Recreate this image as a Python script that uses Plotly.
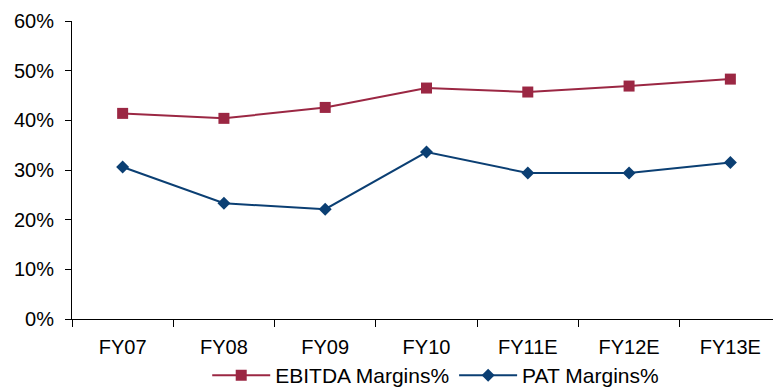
import plotly.graph_objects as go

categories = ["FY07", "FY08", "FY09", "FY10", "FY11E", "FY12E", "FY13E"]
ebitda = [41.4, 40.4, 42.6, 46.5, 45.7, 46.9, 48.3]
pat = [30.6, 23.3, 22.1, 33.6, 29.4, 29.4, 31.5]
y_ticks = [0, 10, 20, 30, 40, 50, 60]
y_tick_labels = [f"{v}%" for v in y_ticks]

fig = go.Figure()
fig.add_trace(go.Scatter(
    x=categories, y=ebitda, name="EBITDA Margins%", mode="lines+markers",
    line=dict(color="#9B2743", width=2),
    marker=dict(symbol="square", size=11, color="#9B2743"),
))
fig.add_trace(go.Scatter(
    x=categories, y=pat, name="PAT Margins%", mode="lines+markers",
    line=dict(color="#0B3F73", width=2),
    marker=dict(symbol="diamond", size=10, color="#0B3F73"),
))

# page body has an 8px margin, so the figure is shrunk and margins offset accordingly
fig.update_layout(
    width=773, height=381,
    margin=dict(l=64, r=0, t=13, b=70, autoexpand=False),
    paper_bgcolor="white", plot_bgcolor="white",
    font=dict(family="Liberation Sans, Arial, sans-serif", size=20, color="#000000"),
    showlegend=True,
    legend=dict(orientation="h", x=0.513, xanchor="center", y=-0.19, yanchor="middle",
                font=dict(size=21), tracegroupgap=0, itemwidth=58,
                bgcolor="rgba(0,0,0,0)"),
    xaxis=dict(
        type="category", range=[-0.5, 6.5], showgrid=False, zeroline=False,
        showline=True, linecolor="#000000", linewidth=1,
        ticks="outside", tickson="boundaries", ticklen=7, tickcolor="#000000",
        tickfont=dict(size=20), automargin=False, ticklabelstandoff=10,
    ),
    yaxis=dict(
        range=[0, 60], tickvals=y_ticks, ticktext=y_tick_labels,
        showgrid=False, zeroline=False,
        showline=True, linecolor="#000000", linewidth=1,
        ticks="outside", ticklen=6, tickcolor="#000000",
        tickfont=dict(size=20), automargin=False, ticklabelstandoff=7,
    ),
)

fig.write_html("out.html")
